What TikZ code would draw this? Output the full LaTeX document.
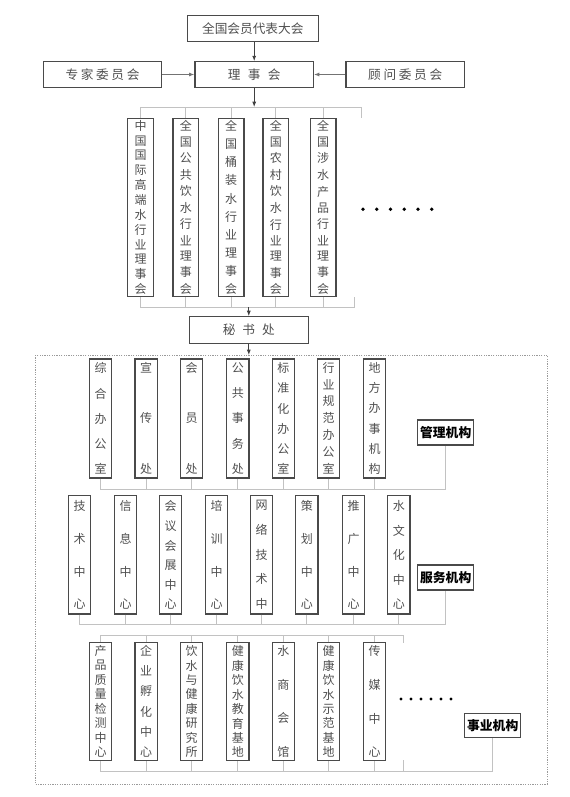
\documentclass[tikz,border=0pt]{standalone}
\usepackage{fontspec}
\setmainfont{Noto Sans CJK SC}
\usetikzlibrary{arrows.meta}
\definecolor{tx}{HTML}{505050}
\definecolor{bd}{HTML}{4A4A4A}
\definecolor{busc}{HTML}{C2C2C2}
\definecolor{frc}{HTML}{9A9A9A}
\newcommand\vstk[2]{\vbox to #1{\offinterlineskip\foreach \c [count=\i] in {#2}{\ifnum\i>1 \vfill\fi\hbox to 1em{\hss\c\hss}}}}
\tikzset{
  hbx/.style={draw=bd, line width=0.9pt, inner sep=0pt, text=tx, font=\fontsize{9.5pt}{11pt}\selectfont, minimum height=19.5pt},
  vcol/.style={draw=bd, line width=0.9pt, inner sep=0pt, text=tx, font=\fontsize{9pt}{10pt}\selectfont},
  rA/.style={vcol, minimum width=19.3pt, minimum height=133.8pt},
  rB/.style={vcol, minimum width=16.7pt, minimum height=89.25pt},
  rC/.style={vcol, minimum width=16.7pt, minimum height=88.7pt},
  rD/.style={vcol, minimum width=16.7pt, minimum height=88.8pt},
  lab/.style={draw=bd, line width=0.9pt, inner sep=0pt, text=black, font=\fontsize{9.6pt}{11pt}\selectfont\bfseries, minimum width=42pt, minimum height=18.75pt},
  arr/.style={draw=black!75, line width=0.6pt, -{Latex[length=4pt,width=3pt]}},
  harr/.style={draw=black!55, line width=1pt, -{Latex[length=4pt,width=3pt]}},
  busline/.style={draw=busc, line width=0.6pt},
  dotframe/.style={draw=frc, line width=0.7pt, dash pattern=on 0.9pt off 0.9pt},
}
\begin{document}
\begin{tikzpicture}[x=0.75pt,y=-0.75pt]
\useasboundingbox[fill=white] (0,0) rectangle (570,797);
\def\hA{129.8pt}\def\hB{83.5pt}\def\hC{81.2pt}\def\hD{83.5pt}
% top
\node[hbx, minimum width=98.25pt] (qg) at (252.8,28.7) {全国会员代表大会};
\node[hbx, minimum width=88.8pt, minimum height=19.2pt] (zj) at (102.5,74.5) {专\hspace{2pt}家\hspace{2pt}委\hspace{2pt}员\hspace{2pt}会};
\node[hbx, minimum width=88.7pt, minimum height=19.2pt] (lsh) at (254.2,74.5) {理\hspace{5.5pt}事\hspace{5.5pt}会};
\node[hbx, minimum width=88.7pt, minimum height=19.2pt] (gw) at (405.2,74.5) {顾\hspace{2pt}问\hspace{2pt}委\hspace{2pt}员\hspace{2pt}会};
\draw[arr] (qg.south -| lsh.north) -- (lsh.north);
\draw[harr] (zj.east) -- (lsh.west);
\draw[harr] (gw.west) -- (lsh.east);
% councils
\node[rA] (a1) at (140.5,207.5) {\vstk{\hA}{中,国,国,际,高,端,水,行,业,理,事,会}};
\node[rA] (a2) at (185.8,207.5) {\vstk{\hA}{全,国,公,共,饮,水,行,业,理,事,会}};
\node[rA] (a3) at (231.2,207.5) {\vstk{\hA}{全,国,桶,装,水,行,业,理,事,会}};
\node[rA] (a4) at (275.8,207.5) {\vstk{\hA}{全,国,农,村,饮,水,行,业,理,事,会}};
\node[rA] (a5) at (323.2,207.5) {\vstk{\hA}{全,国,涉,水,产,品,行,业,理,事,会}};
\foreach \k in {0,...,5} \fill[black] (363+\k*13.74,209.3) circle[radius=1.4pt];
\coordinate (t0) at (254.2,107);
\coordinate (t0R) at (361,107);
\coordinate (t0s) at (361,118.3);
\draw[busline] (a1.north) -- (a1.north |- t0) -- (t0R) -- (t0s);
\foreach \n in {a2,a3,a4,a5} \draw[busline] (\n.north) -- (\n.north |- t0);
\draw[arr] (lsh.south) -- (t0);
\coordinate (b0) at (248.8,307.3);
\coordinate (b0R) at (354,307.3);
\coordinate (b0s) at (354,296.7);
\draw[busline] (a1.south) -- (a1.south |- b0) -- (b0R) -- (b0s);
\foreach \n in {a2,a3,a4,a5} \draw[busline] (\n.south) -- (\n.south |- b0);
% secretariat
\node[hbx, minimum width=89.25pt, minimum height=20pt] (msc) at (248.8,330) {秘\hspace{5.2pt}书\hspace{5.2pt}处};
\draw[arr] (b0) -- (msc.north);
\coordinate (ftop) at (248.8,355);
\draw[dotframe] (35,355) rectangle (547.3,784);
\draw[arr] (msc.south) -- (ftop);
% management row
\node[rB] (m1) at (100.5,418.5) {\vstk{\hB}{综,合,办,公,室}};
\node[rB] (m2) at (146.2,418.5) {\vstk{\hB}{宣,传,处}};
\node[rB] (m3) at (191.7,418.5) {\vstk{\hB}{会,员,处}};
\node[rB] (m4) at (237.8,418.5) {\vstk{\hB}{公,共,事,务,处}};
\node[rB] (m5) at (283.3,418.5) {\vstk{\hB}{标,准,化,办,公,室}};
\node[rB] (m6) at (328.7,418.5) {\vstk{\hB}{行,业,规,范,办,公,室}};
\node[rB] (m7) at (374.7,418.5) {\vstk{\hB}{地,方,办,事,机,构}};
\node[lab] (g1) at (445.7,432.5) {管理机构};
\coordinate (r1) at (0,489);
\draw[busline] (m1.south) -- (m1.south |- r1) -- (g1.south |- r1) -- (g1.south);
\foreach \n in {m2,m3,m4,m5,m6,m7} \draw[busline] (\n.south) -- (\n.south |- r1);
% service row
\node[rC] (s1) at (79.5,554.9) {\vstk{\hC}{技,术,中,心}};
\node[rC] (s2) at (125.5,554.9) {\vstk{\hC}{信,息,中,心}};
\node[rC] (s3) at (170.7,554.9) {\vstk{\hC}{会,议,会,展,中,心}};
\node[rC] (s4) at (216.7,554.9) {\vstk{\hC}{培,训,中,心}};
\node[rC] (s5) at (261.7,554.9) {\vstk{\hC}{网,络,技,术,中}};
\node[rC] (s6) at (306.8,554.9) {\vstk{\hC}{策,划,中,心}};
\node[rC] (s7) at (353.5,554.9) {\vstk{\hC}{推,广,中,心}};
\node[rC] (s8) at (398.8,554.9) {\vstk{\hC}{水,文,化,中,心}};
\node[lab] (g2) at (445.7,577.5) {服务机构};
\coordinate (r2) at (0,624);
\draw[busline] (s1.south) -- (s1.south |- r2) -- (g2.south |- r2) -- (g2.south);
\foreach \n in {s2,s3,s4,s5,s6,s7,s8} \draw[busline] (\n.south) -- (\n.south |- r2);
% enterprise row
\node[rD] (p1) at (100.5,701.5) {\vstk{\hD}{产,品,质,量,检,测,中,心}};
\node[rD] (p2) at (146.2,701.5) {\vstk{\hD}{企,业,孵,化,中,心}};
\node[rD] (p3) at (191.7,701.5) {\vstk{\hD}{饮,水,与,健,康,研,究,所}};
\node[rD] (p4) at (237.8,701.5) {\vstk{\hD}{健,康,饮,水,教,育,基,地}};
\node[rD] (p5) at (283.3,701.5) {\vstk{\hD}{水,商,会,馆}};
\node[rD] (p6) at (328.7,701.5) {\vstk{\hD}{健,康,饮,水,示,范,基,地}};
\node[rD] (p7) at (374.7,701.5) {\vstk{\hD}{传,媒,中,心}};
\foreach \k in {0,...,5} \fill[black] (401+\k*10,699) circle[radius=1.2pt];
\node[lab, minimum height=18pt] (g3) at (492.7,725.3) {事业机构};
\coordinate (r3t) at (0,635);
\coordinate (r3tR) at (403.3,635);
\coordinate (r3ts) at (403.3,642.7);
\draw[busline] (p1.north) -- (p1.north |- r3t) -- (r3tR) -- (r3ts);
\foreach \n in {p2,p3,p4,p5,p6,p7} \draw[busline] (\n.north) -- (\n.north |- r3t);
\coordinate (r3b) at (0,771.7);
\coordinate (r3bs) at (403.3,760);
\draw[busline] (p1.south) -- (p1.south |- r3b) -- (g3.south |- r3b) -- (g3.south);
\foreach \n in {p2,p3,p4,p5,p6,p7} \draw[busline] (\n.south) -- (\n.south |- r3b);
\draw[busline] (r3bs) -- (r3bs |- r3b);
\end{tikzpicture}
\end{document}
